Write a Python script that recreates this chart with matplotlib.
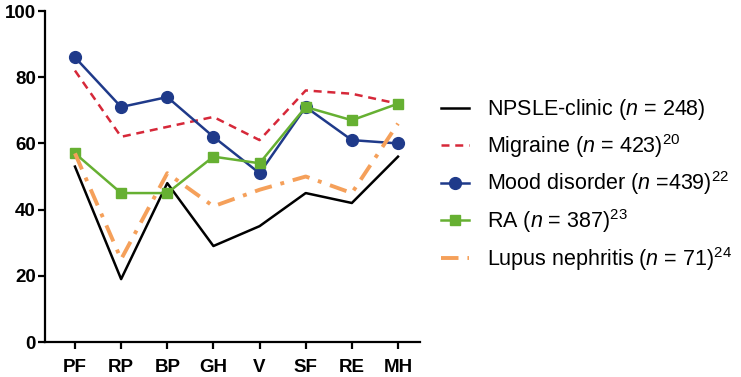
import matplotlib
matplotlib.use("Agg")
import matplotlib.pyplot as plt

# =========================
# DATA
# =========================

DOMAINS = ["PF", "RP", "BP", "GH", "V", "SF", "RE", "MH"]

npsle = [53, 19, 48, 29, 35, 45, 42, 56]
migraine = [82, 62, 65, 68, 61, 76, 75, 72]
mood = [86, 71, 74, 62, 51, 71, 61, 60]
ra = [57, 45, 45, 56, 54, 71, 67, 72]
lupus = [57, 25, 51, 41, 46, 50, 45, 66]

LABELS = [
    r"NPSLE-clinic ($\mathit{n}$ = 248)",
    r"Migraine ($\mathit{n}$ = 423)$^{20}$",
    r"Mood disorder ($\mathit{n}$ =439)$^{22}$",
    r"RA ($\mathit{n}$ = 387)$^{23}$",
    r"Lupus nephritis ($\mathit{n}$ = 71)$^{24}$",
]

# =========================
# STYLE
# =========================

plt.rcParams["font.family"] = ["Liberation Sans", "DejaVu Sans"]
plt.rcParams["mathtext.fontset"] = "custom"
plt.rcParams["mathtext.rm"] = "Liberation Sans"
plt.rcParams["mathtext.it"] = "Liberation Sans:italic"
plt.rcParams["mathtext.bf"] = "Liberation Sans:bold"

fig = plt.figure(figsize=(7.41, 3.77), dpi=100)
ax = fig.add_axes([0.0607, 0.0928, 0.5063, 0.878])

x = list(range(len(DOMAINS)))

ax.plot(x, npsle, color="black", lw=1.8, label=LABELS[0])
ax.plot(x, migraine, color="#d62839", lw=1.8, ls=(0, (3.2, 2.3)), label=LABELS[1])
ax.plot(x, mood, color="#1f3a8a", lw=1.8, marker="o", ms=8.5, label=LABELS[2])
ax.plot(x, ra, color="#66b032", lw=1.8, marker="s", ms=6.5, label=LABELS[3])
ax.plot(x, lupus, color="#f5a05a", lw=2.8, ls=(0, (4.5, 2.3, 1, 2.3)), label=LABELS[4])

ax.set_xlim(-0.65, 7.48)
ax.set_ylim(0, 100)
ax.set_xticks(x)
ax.set_xticklabels(DOMAINS, fontweight="bold", fontsize=13.5)
ax.set_yticks([0, 20, 40, 60, 80, 100])
ax.set_yticklabels(["0", "20", "40", "60", "80", "100"], fontweight="bold", fontsize=13.5)

for side in ["top", "right"]:
    ax.spines[side].set_visible(False)
for side in ["left", "bottom"]:
    ax.spines[side].set_linewidth(1.6)
ax.tick_params(axis="both", width=1.6, length=5, direction="out")
ax.tick_params(axis="x", pad=7)
ax.tick_params(axis="y", pad=1.5)

leg = ax.legend(
    loc="upper left",
    bbox_to_anchor=(0.584, 0.765),
    bbox_transform=fig.transFigure,
    frameon=False,
    fontsize=15.5,
    handlelength=1.3,
    handletextpad=0.8,
    labelspacing=0.45,
    borderaxespad=0,
)

fig.savefig("out.png", dpi=100, facecolor="white")
